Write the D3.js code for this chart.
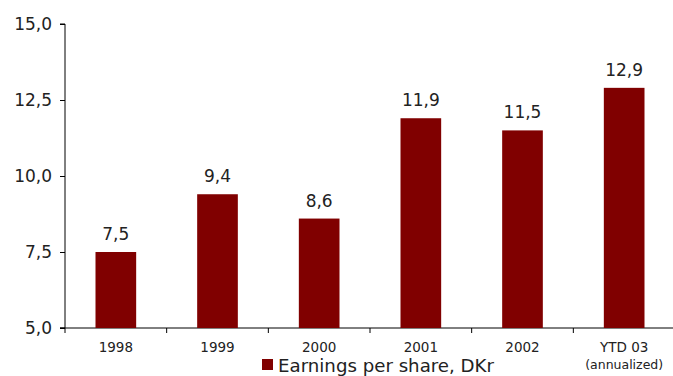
<!DOCTYPE html>
<html><head><meta charset="utf-8">
<script src="https://cdn.jsdelivr.net/npm/d3@7"></script>
<style>body{margin:0;background:#fff}svg{display:block}text{font-family:"DejaVu Sans",sans-serif;fill:#222}</style>
</head><body><svg id="c" width="673" height="376"></svg>
<script>
const categories = ["1998","1999","2000","2001","2002","YTD 03"];
const values = [7.5, 9.4, 8.6, 11.9, 11.5, 12.9];
const valueLabels = ["7,5","9,4","8,6","11,9","11,5","12,9"];
const yTicks = [5, 7.5, 10, 12.5, 15];
const yTickLabels = ["5,0","7,5","10,0","12,5","15,0"];
const seriesName = "Earnings per share, DKr";
const color = "#800000";

const svg = d3.select("#c");
const mLeft = 65, mRight = 675, mTop = 24, mBottom = 328;
const x = d3.scaleBand().domain(categories).range([mLeft, mRight]).paddingInner(0.6).paddingOuter(0.3);
const xb = d3.scaleBand().domain(categories).range([mLeft, mRight]);
const y = d3.scaleLinear().domain([5, 15]).range([mBottom, mTop]);

// y axis
const ya = svg.append("g").attr("transform", `translate(${mLeft},0)`)
  .call(d3.axisLeft(y).tickValues(yTicks).tickFormat((d,i)=>yTickLabels[i]).tickSize(5).tickPadding(8));
ya.select(".domain").attr("stroke","#000").attr("d",`M-5,${y(15)}H0V${y(5)}H-5`);
ya.selectAll("text").style("font-size","17px").attr("fill","#222").attr("dy","0.35em").attr("x",-13);

// x axis
const xa = svg.append("g").attr("transform", `translate(0,${mBottom})`);
xa.append("line").attr("x1",mLeft-5).attr("x2",673).attr("y1",0).attr("y2",0).attr("stroke","#000");
xa.selectAll("line.t").data(categories).enter().append("line").attr("class","t")
  .attr("x1",d=>xb(d)).attr("x2",d=>xb(d)).attr("y1",0).attr("y2",5).attr("stroke","#000");
xa.selectAll("text.l").data(categories).enter().append("text").attr("class","l")
  .attr("x",d=>x(d)+x.bandwidth()/2).attr("y",24).attr("text-anchor","middle")
  .style("font-size","13.5px").text(d=>d);
xa.append("text").attr("x",x("YTD 03")+x.bandwidth()/2).attr("y",41).attr("text-anchor","middle")
  .style("font-size","12.5px").text("(annualized)");

// bars
svg.selectAll("rect.b").data(values).enter().append("rect").attr("class","b")
  .attr("x",(d,i)=>x(categories[i])).attr("width",x.bandwidth())
  .attr("y",d=>y(d)).attr("height",d=>y(5)-y(d)).attr("fill",color);

svg.selectAll("text.v").data(values).enter().append("text").attr("class","v")
  .attr("x",(d,i)=>x(categories[i])+x.bandwidth()/2).attr("y",d=>y(d)-12)
  .attr("text-anchor","middle").style("font-size","17px").text((d,i)=>valueLabels[i]);

// legend
svg.append("rect").attr("x",262).attr("y",359).attr("width",11).attr("height",11).attr("fill",color);
svg.append("text").attr("x",278).attr("y",372).style("font-size","17px")
  .attr("textLength",216).attr("lengthAdjust","spacingAndGlyphs").text(seriesName);
</script></body></html>
